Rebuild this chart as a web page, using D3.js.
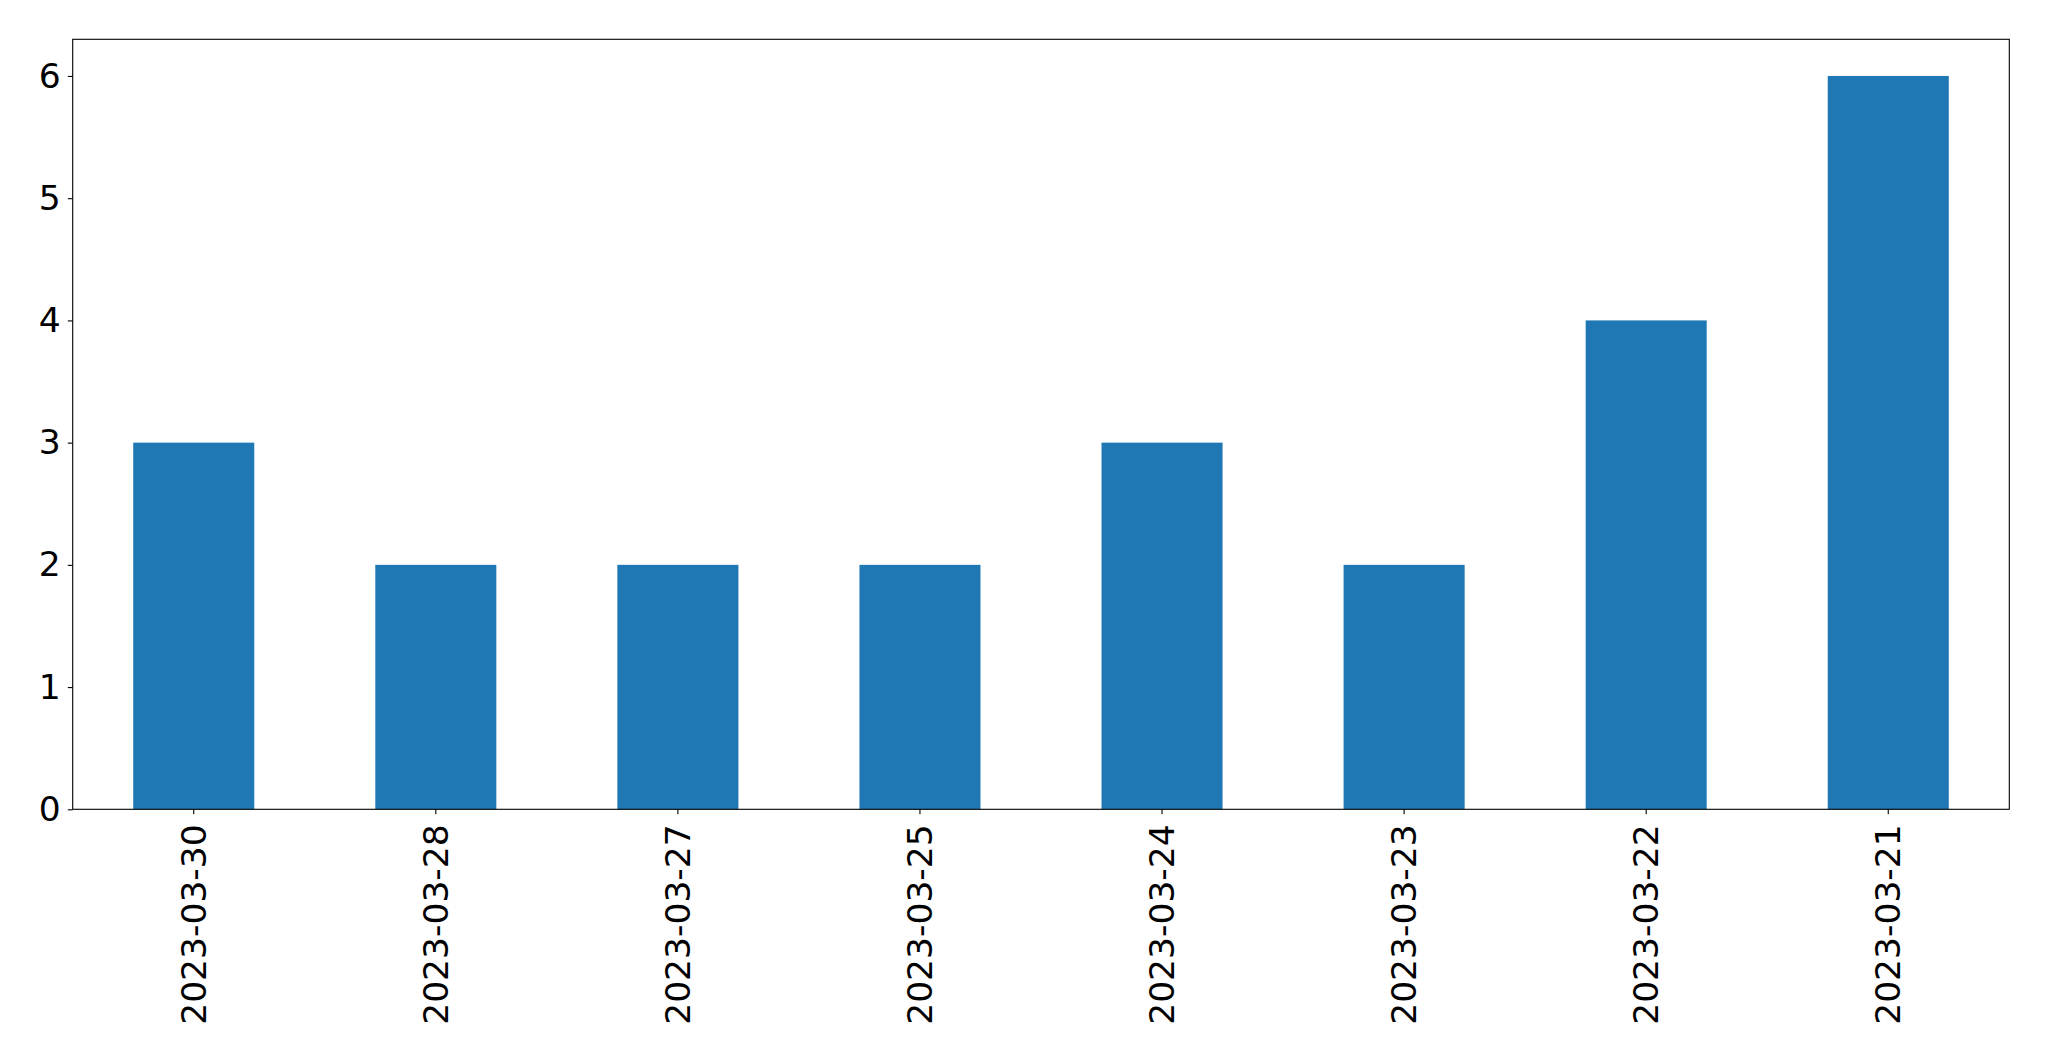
<!DOCTYPE html>
<html>
<head>
<meta charset="utf-8">
<script src="https://cdn.jsdelivr.net/npm/d3@7"></script>
<style>
  html, body { margin: 0; padding: 0; background: #fff; }
  svg { display: block; }
</style>
</head>
<body>
<svg id="chart" width="2049" height="1061"></svg>
<script>
const categories = ["2023-03-30", "2023-03-28", "2023-03-27", "2023-03-25", "2023-03-24", "2023-03-23", "2023-03-22", "2023-03-21"];
const values = [3, 2, 2, 2, 3, 2, 4, 6];
const yTicks = [0, 1, 2, 3, 4, 5, 6];

const W = 2049, H = 1061;
const margin = { left: 72.7, right: W - 2009.3, top: 39.3, bottom: H - 809.3 };
const svg = d3.select("#chart");
const plotW = W - margin.left - margin.right;
const plotH = H - margin.top - margin.bottom;

const g = svg.append("g").attr("transform", `translate(${margin.left},${margin.top})`);

const x = d3.scaleBand().domain(categories).range([0, plotW]).paddingInner(0.5).paddingOuter(0.25);
const y = d3.scaleLinear().domain([0, 6.3]).range([plotH, 0]);

g.selectAll("rect.bar")
  .data(categories)
  .enter().append("rect")
  .attr("class", "bar")
  .attr("x", d => x(d))
  .attr("width", x.bandwidth())
  .attr("y", (d, i) => y(values[i]))
  .attr("height", (d, i) => y(0) - y(values[i]))
  .attr("fill", "#1f77b4");

const fontFamily = "'DejaVu Sans', sans-serif";
const fontSize = 34.5;

// y axis
const yAxis = g.append("g")
  .call(d3.axisLeft(y).tickValues(yTicks).tickFormat(d3.format("d")).tickSize(4.9).tickPadding(7));
yAxis.select(".domain").remove();
yAxis.selectAll("line").attr("stroke", "#000").attr("stroke-width", 1.1);
yAxis.selectAll("text").attr("font-family", fontFamily).attr("font-size", fontSize).attr("fill", "#000");

// x axis
const xAxis = g.append("g").attr("transform", `translate(0,${plotH})`)
  .call(d3.axisBottom(x).tickSize(4.9).tickPadding(0));
xAxis.select(".domain").remove();
xAxis.selectAll("line").attr("stroke", "#000").attr("stroke-width", 1.1);
xAxis.selectAll("text")
  .attr("font-family", fontFamily).attr("font-size", fontSize).attr("fill", "#000")
  .attr("text-anchor", "end")
  .attr("dy", null)
  .attr("dominant-baseline", "central")
  .attr("transform", "translate(0,15) rotate(-90)")
  .attr("x", 0).attr("y", 0);

// frame
g.append("rect")
  .attr("x", 0).attr("y", 0).attr("width", plotW).attr("height", plotH)
  .attr("fill", "none").attr("stroke", "#000").attr("stroke-width", 1.1);
</script>
</body>
</html>
